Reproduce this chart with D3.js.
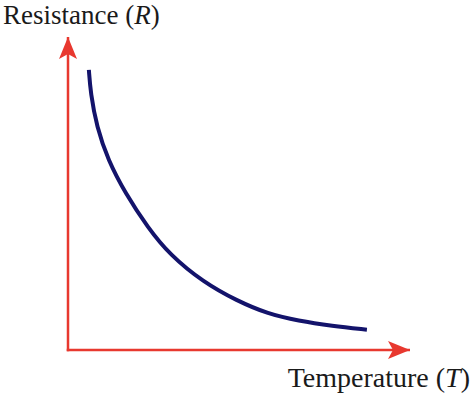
<!DOCTYPE html>
<html>
<head>
<meta charset="utf-8">
<script src="https://cdn.jsdelivr.net/npm/d3@7"></script>
<style>
  body { margin: 0; background: #fff; }
  text { font-family: "Liberation Serif", "Times New Roman", serif; fill: #1a1a1a; }
</style>
</head>
<body>
<script>
var width = 474,
    height = 395;

// curve (arbitrary units, 0-100 on both axes)
var temperature = [6.1, 6.6, 8.4, 11.7, 16.7, 23.4, 29.8, 39.5, 49.4, 58.5, 67.3, 77.2, 87.4];
var resistance  = [89.5, 82.1, 71.3, 60.7, 50.2, 39.0, 30.4, 21.7, 15.7, 11.5, 9.3, 7.7, 6.5];

var xLabel = "Temperature",
    xSymbol = "T",
    yLabel = "Resistance",
    ySymbol = "R";

var axisColor = "#e8382f",
    curveColor = "#13136b";

var x = d3.scaleLinear().domain([0, 100]).range([68, 410]);
var y = d3.scaleLinear().domain([0, 100]).range([350, 37]);

var svg = d3.select("body").append("svg")
    .attr("width", width)
    .attr("height", height);

// arrow heads
var defs = svg.append("defs");
defs.append("marker")
    .attr("id", "arrow")
    .attr("viewBox", "0 0 22 18")
    .attr("refX", 22)
    .attr("refY", 9)
    .attr("markerWidth", 22)
    .attr("markerHeight", 18)
    .attr("markerUnits", "userSpaceOnUse")
    .attr("orient", "auto")
  .append("path")
    .attr("d", "M0,0 L22,9 L0,18 L5,9 Z")
    .attr("fill", axisColor);

// axes without ticks
var xAxis = svg.append("g")
    .attr("transform", "translate(0," + y(0) + ")")
    .call(d3.axisBottom(x).ticks(0).tickSizeOuter(0));
var yAxis = svg.append("g")
    .attr("transform", "translate(" + x(0) + ",0)")
    .call(d3.axisLeft(y).ticks(0).tickSizeOuter(0));

// redraw domains so the corner joins cleanly and carries the arrows
xAxis.select(".domain").remove();
yAxis.select(".domain").remove();

svg.append("path")
    .attr("d", "M" + (x(0) - 1.25) + "," + y(0) + "L" + x(100) + "," + y(0))
    .attr("stroke", axisColor)
    .attr("stroke-width", 2.5)
    .attr("fill", "none")
    .attr("marker-end", "url(#arrow)");

svg.append("path")
    .attr("d", "M" + x(0) + "," + (y(0) + 1.25) + "L" + x(0) + "," + y(100))
    .attr("stroke", axisColor)
    .attr("stroke-width", 2.5)
    .attr("fill", "none")
    .attr("marker-end", "url(#arrow)");

// resistance curve
var points = temperature.map(function(t, i) { return [t, resistance[i]]; });

var line = d3.line()
    .curve(d3.curveBasis)
    .x(function(d) { return x(d[0]); })
    .y(function(d) { return y(d[1]); });

svg.append("path")
    .datum(points)
    .attr("d", line)
    .attr("fill", "none")
    .attr("stroke", curveColor)
    .attr("stroke-width", 4);

// labels
var yt = svg.append("text")
    .attr("x", 3)
    .attr("y", 24)
    .style("font-size", "27px");
yt.append("tspan").text(yLabel + " (");
yt.append("tspan").style("font-style", "italic").text(ySymbol);
yt.append("tspan").text(")");

var xt = svg.append("text")
    .attr("x", 470)
    .attr("y", 387)
    .attr("text-anchor", "end")
    .style("font-size", "28px");
xt.append("tspan").text(xLabel + " (");
xt.append("tspan").style("font-style", "italic").text(xSymbol);
xt.append("tspan").text(")");
</script>
</body>
</html>
